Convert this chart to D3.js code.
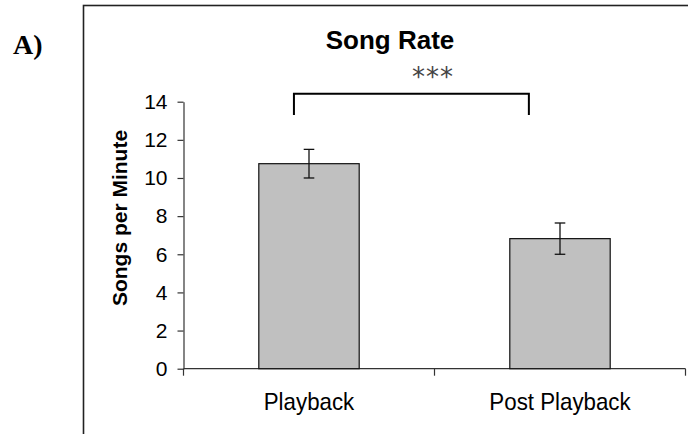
<!DOCTYPE html>
<html>
<head>
<meta charset="utf-8">
<script src="https://cdn.jsdelivr.net/npm/d3@7"></script>
<style>
  body { margin: 0; background: #fff; }
  svg { display: block; }
</style>
</head>
<body>
<div id="chart"></div>
<script>
// Data
const categories = ["Playback", "Post Playback"];
const means = [10.75, 6.82];
const errors = [0.75, 0.82];
const yTicks = [0, 2, 4, 6, 8, 10, 12, 14];

// significance bracket (in data units)
const bracketTop = 14.42;
const bracketLegBottom = 13.3;
const bracketLabel = "***";

const width = 688, height = 434;
const plot = {left: 183.5, right: 685.5, top: 101.7, bottom: 368.7};

const svg = d3.select("#chart")
  .append("svg")
    .attr("width", width)
    .attr("height", height);

// Outer frame (cut off at right and bottom in the original)
svg.append("rect")
  .attr("x", 83.5)
  .attr("y", 5.5)
  .attr("width", 700)
  .attr("height", 500)
  .style("fill", "none")
  .style("stroke", "#222")
  .style("stroke-width", 1.6);

// Panel label
svg.append("text")
  .attr("x", 13)
  .attr("y", 54)
  .style("font-family", "'Liberation Serif', 'Times New Roman', serif")
  .style("font-weight", "bold")
  .style("font-size", "28px")
  .text("A)");

// Scales
const x = d3.scaleBand()
  .domain(categories)
  .range([plot.left, plot.right])
  .paddingInner(0.6)
  .paddingOuter(0.3);

const xEdge = d3.scaleBand()
  .domain(categories)
  .range([plot.left, plot.right])
  .padding(0);

const y = d3.scaleLinear()
  .domain([0, 14])
  .range([plot.bottom, plot.top]);

// Title
svg.append("text")
  .attr("x", 390)
  .attr("y", 48.5)
  .attr("text-anchor", "middle")
  .style("font-family", "'Liberation Sans', Arial, sans-serif")
  .style("font-weight", "bold")
  .style("font-size", "26px")
  .text("Song Rate");

// Y axis
const yAxis = svg.append("g")
  .attr("transform", `translate(${plot.left},0)`)
  .call(d3.axisLeft(y).tickValues(yTicks).tickSize(6).tickPadding(10).tickSizeOuter(0));
yAxis.select(".domain").style("stroke", "#333").style("stroke-width", 1.2);
yAxis.selectAll(".tick line").style("stroke", "#333").style("stroke-width", 1.2);
yAxis.selectAll(".tick text")
  .style("font-family", "'Liberation Sans', Arial, sans-serif")
  .style("font-size", "21px")
  .style("fill", "#000");

// X axis: ticks at category boundaries, Excel style
const xAxisG = svg.append("g")
  .attr("transform", `translate(0,${plot.bottom})`);
xAxisG.append("line")
  .attr("x1", plot.left)
  .attr("x2", plot.right)
  .style("stroke", "#333")
  .style("stroke-width", 1.2);
const edges = categories.map(c => xEdge(c)).concat([plot.right]);
xAxisG.selectAll(".xtick")
  .data(edges)
  .enter()
  .append("line")
  .attr("class", "xtick")
  .attr("x1", d => d)
  .attr("x2", d => d)
  .attr("y1", 0)
  .attr("y2", 7)
  .style("stroke", "#333")
  .style("stroke-width", 1.2);
// labels are a bit tall and narrow in the original
xAxisG.selectAll(".xlabel")
  .data(categories)
  .enter()
  .append("text")
  .attr("class", "xlabel")
  .attr("transform", d => `translate(${x(d) + x.bandwidth() / 2},41) scale(0.93,1)`)
  .attr("text-anchor", "middle")
  .style("font-family", "'Liberation Sans', Arial, sans-serif")
  .style("font-size", "24px")
  .text(d => d);

// Y axis label
svg.append("text")
  .attr("transform", `translate(127,218) rotate(-90)`)
  .attr("text-anchor", "middle")
  .style("font-family", "'Liberation Sans', Arial, sans-serif")
  .style("font-weight", "bold")
  .style("font-size", "21px")
  .text("Songs per Minute");

// Bars
svg.selectAll(".bar")
  .data(categories)
  .enter()
  .append("rect")
  .attr("class", "bar")
  .attr("x", d => x(d))
  .attr("width", x.bandwidth())
  .attr("y", (d, i) => y(means[i]))
  .attr("height", (d, i) => y(0) - y(means[i]))
  .style("fill", "#c0c0c0")
  .style("stroke", "#111")
  .style("stroke-width", 1.2);

// Error bars
const capHalf = 5.3;
const err = svg.selectAll(".err")
  .data(categories)
  .enter()
  .append("g")
  .attr("class", "err")
  .style("stroke", "#111")
  .style("stroke-width", 1.3);
err.append("line")
  .attr("x1", d => x(d) + x.bandwidth() / 2)
  .attr("x2", d => x(d) + x.bandwidth() / 2)
  .attr("y1", (d, i) => y(means[i] + errors[i]))
  .attr("y2", (d, i) => y(means[i] - errors[i]));
err.append("line")
  .attr("x1", d => x(d) + x.bandwidth() / 2 - capHalf)
  .attr("x2", d => x(d) + x.bandwidth() / 2 + capHalf)
  .attr("y1", (d, i) => y(means[i] + errors[i]))
  .attr("y2", (d, i) => y(means[i] + errors[i]));
err.append("line")
  .attr("x1", d => x(d) + x.bandwidth() / 2 - capHalf)
  .attr("x2", d => x(d) + x.bandwidth() / 2 + capHalf)
  .attr("y1", (d, i) => y(means[i] - errors[i]))
  .attr("y2", (d, i) => y(means[i] - errors[i]));

// Significance bracket (hand-drawn in the original, slightly off the bar centres)
const bx1 = x(categories[0]) + x.bandwidth() * 0.35;
const bx2 = x(categories[1]) + x.bandwidth() * 0.19;
svg.append("path")
  .attr("d", d3.line()([
    [bx1, y(bracketLegBottom)],
    [bx1, y(bracketTop)],
    [bx2, y(bracketTop)],
    [bx2, y(bracketLegBottom)]
  ]))
  .style("fill", "none")
  .style("stroke", "#000")
  .style("stroke-width", 2);

svg.append("text")
  .attr("x", 433)
  .attr("y", 86)
  .attr("text-anchor", "middle")
  .style("font-family", "'DejaVu Sans', sans-serif")
  .style("font-size", "26px")
  .style("letter-spacing", "1px")
  .style("fill", "#444")
  .text(bracketLabel);
</script>
</body>
</html>
